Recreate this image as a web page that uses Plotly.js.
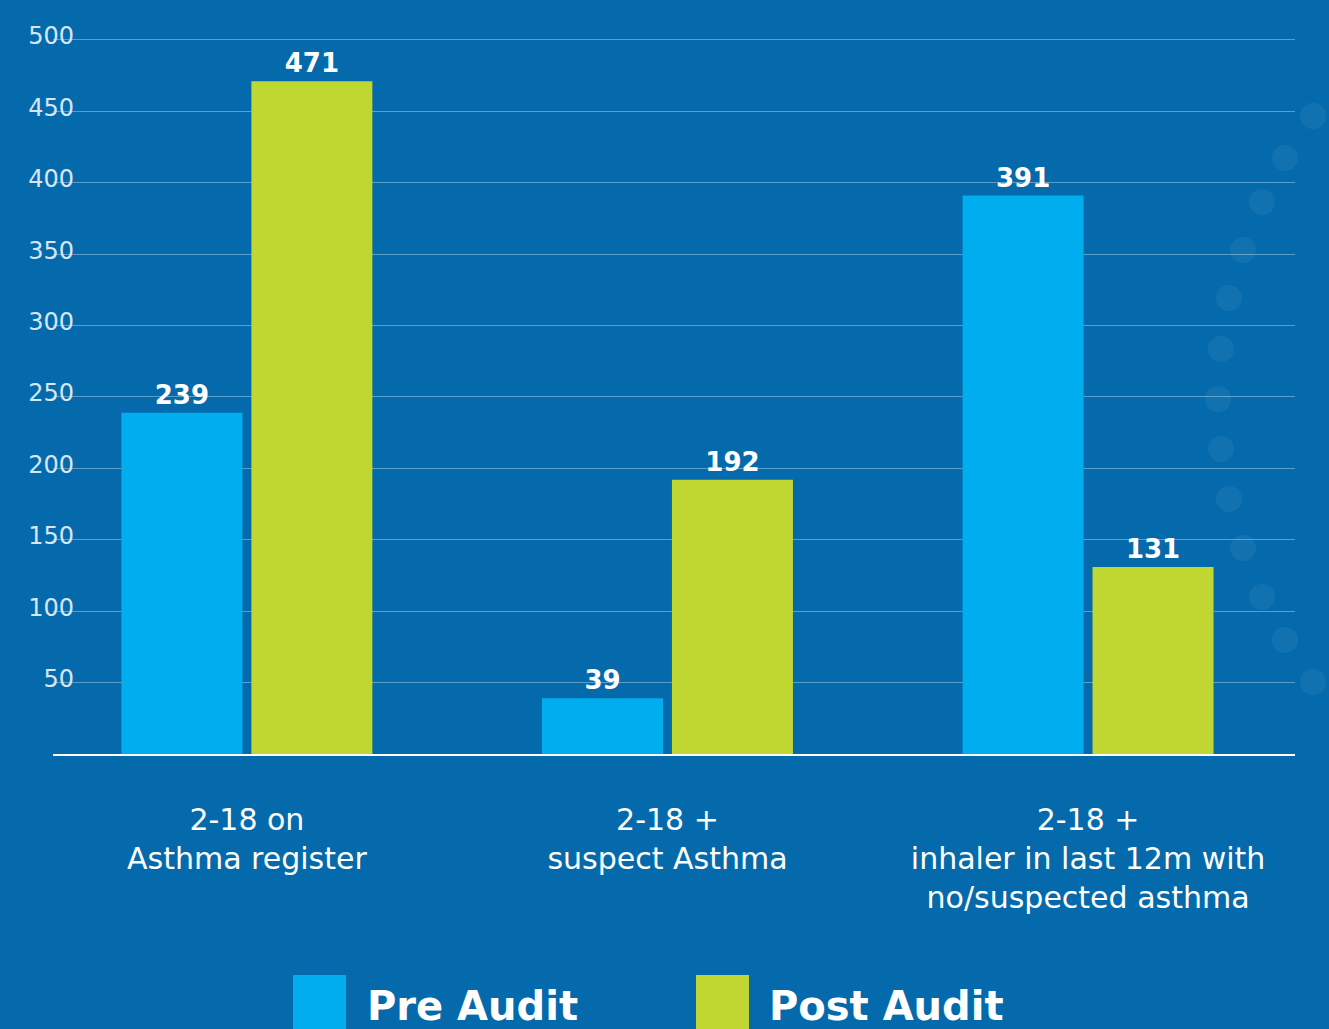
<!DOCTYPE html>
<html>
<head>
<meta charset="utf-8">
<script src="https://cdn.plot.ly/plotly-3.0.1.min.js"></script>
<style>html,body{margin:0;padding:0;background:#046aac;}#chart{width:1329px;height:1029px;}</style>
</head>
<body>
<div id="chart"></div>
<script>
// ---- data ----
const categories = ["2-18 on<br>Asthma register", "2-18 +<br>suspect Asthma", "2-18 +<br>inhaler in last 12m with<br>no/suspected asthma"];
const seriesNames = ["Pre Audit", "Post Audit"];
const preAudit = [239, 39, 391];
const postAudit = [471, 192, 131];
const yTickValues = [50, 100, 150, 200, 250, 300, 350, 400, 450, 500];

// ---- styles ----
const BG = "#046aac";
const COLORS = ["#00aeef", "#bfd730"];
const FONT = "DejaVu Sans";

// decorative dots on the right edge (pixel positions, decoration only)
const dots = [[1313,116],[1285,158],[1262,202],[1243,250],[1229,298],[1221,349],[1218,399],[1221,449],[1229,499],[1243,548],[1262,597],[1285,640],[1313,682]];

const W = 1329, H = 1029;
const M = {l: 53, r: 34, t: 37, b: 275};

function px2paperX(x){ return (x - M.l) / (W - M.l - M.r); }
function px2paperY(y){ return (H - M.b - y) / (H - M.t - M.b); }

const traces = [preAudit, postAudit].map((vals, i) => ({
  type: "bar",
  name: seriesNames[i],
  x: [0, 1, 2],
  y: vals,
  marker: {color: COLORS[i], line: {width: 0}},
  text: vals.map(String),
  textposition: "outside",
  textfont: {family: FONT, size: 26, color: "#ffffff", weight: "bold"},
  cliponaxis: false,
  constraintext: "none",
  showlegend: false,
  hoverinfo: "skip"
}));

const shapes = [];
dots.forEach(([x, y]) => {
  const r = 13;
  shapes.push({type: "circle", xref: "paper", yref: "paper",
    x0: px2paperX(x - r), x1: px2paperX(x + r), y0: px2paperY(y + r), y1: px2paperY(y - r),
    fillcolor: "rgba(255,255,255,0.06)", line: {width: 0}, layer: "below"});
});

// legend swatches and labels
const legendPos = [[293, 365], [696, 767]];
const annotations = [];
seriesNames.forEach((name, i) => {
  const [sx, tx] = legendPos[i];
  shapes.push({type: "rect", xref: "paper", yref: "paper",
    x0: px2paperX(sx), x1: px2paperX(sx + 53), y0: px2paperY(1035), y1: px2paperY(975),
    fillcolor: COLORS[i], line: {width: 0}});
  annotations.push({xref: "paper", yref: "paper", x: px2paperX(tx), y: px2paperY(1006),
    xanchor: "left", yanchor: "middle", showarrow: false, text: "<b>" + name + "</b>",
    font: {family: FONT, size: 40, color: "#ffffff"}});
});

const layout = {
  width: W, height: H,
  paper_bgcolor: BG, plot_bgcolor: BG,
  margin: M,
  barmode: "group",
  bargap: 0.382,
  bargroupgap: 0.069,
  showlegend: false,
  xaxis: {
    range: [-0.461, 2.492],
    tickvals: [0, 1, 2],
    ticktext: categories,
    tickfont: {family: FONT, size: 30, color: "#ffffff"},
    ticks: "",
    showgrid: false,
    zeroline: false,
    showline: true, linecolor: "#ffffff", linewidth: 2,
    ticklabelstandoff: 38,
    fixedrange: true
  },
  yaxis: {
    range: [0, 502],
    tickvals: yTickValues,
    ticktext: yTickValues.map(String),
    tickfont: {family: FONT, size: 24, color: "#d6e6f2"},
    ticks: "",
    showgrid: true, gridcolor: "rgba(255,255,255,0.35)", gridwidth: 1,
    zeroline: false,
    showline: false,
    ticklabelstandoff: -22,
    ticklabelshift: -4,
    fixedrange: true
  },
  shapes: shapes,
  annotations: annotations
};

Plotly.newPlot("chart", traces, layout, {displayModeBar: false, staticPlot: true});
</script>
</body>
</html>
